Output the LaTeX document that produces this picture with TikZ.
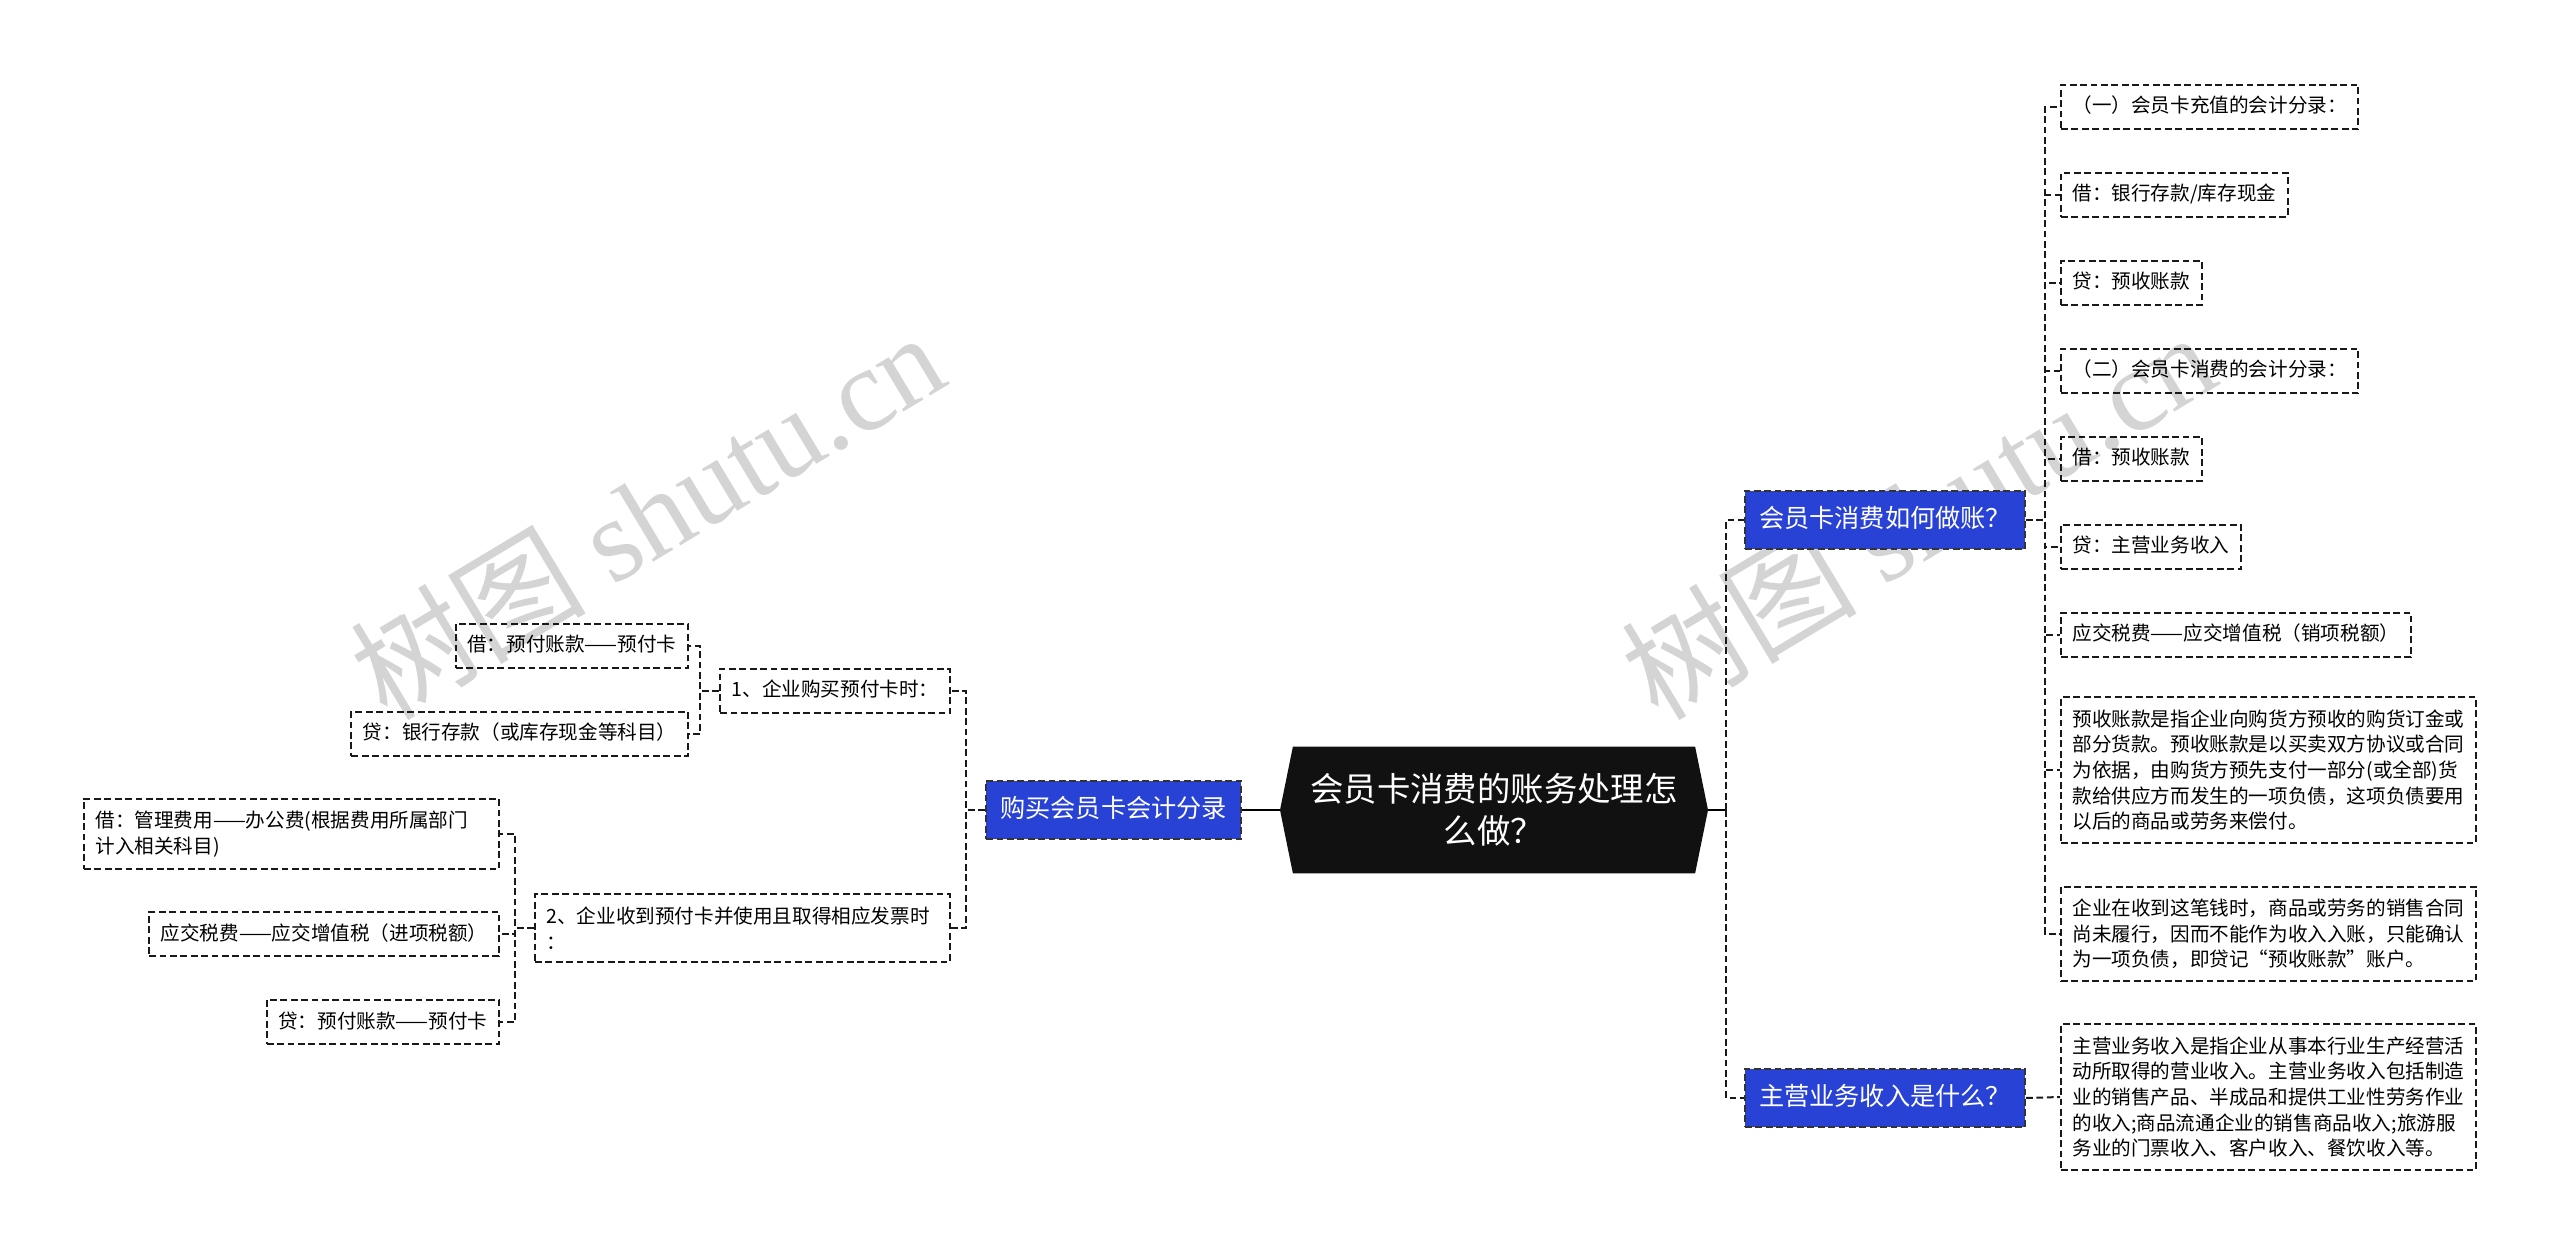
\documentclass[tikz,border=0pt]{standalone}
\usepackage{fontspec}
\setmainfont{Noto Sans CJK SC}
\newfontfamily\marklatin{Liberation Serif}
\usetikzlibrary{shapes.symbols}
\definecolor{branchblue}{RGB}{40,66,214}
\definecolor{rootblack}{RGB}{17,17,17}
\definecolor{markgray}{RGB}{212,212,212}

\begin{document}
\begin{tikzpicture}[x=0.5pt,y=-0.5pt,
  dashline/.style={dash pattern=on 3.4pt off 1.8pt,line width=1pt},
  leaf/.style={draw=black!90,dashline,inner xsep=5.75pt,inner ysep=6.2pt,align=left,font=\fontsize{9.8}{12.85}\selectfont},
  oneline/.style={leaf,text height=8pt,text depth=2pt},
  branch/.style={fill=branchblue,draw=black!80,dashline,text=white,inner xsep=7pt,inner ysep=8.3pt,text height=10.3pt,text depth=2.5pt,font=\fontsize{12.6}{15}\selectfont},
  root/.style={signal,signal to=east and west,signal pointer angle=157,fill=rootblack,text=white,align=center,inner xsep=8.7pt,inner ysep=13.4pt,font=\fontsize{16.7}{21.2}\selectfont},
  watermark/.style={text=markgray,rotate=31,font=\fontsize{59}{59}\selectfont},
  link/.style={draw=black!90,dashline},
  stem/.style={draw=black,line width=1.2pt},
  elbow/.style={to path={-- ([xshift=9.5pt]\tikztostart) |- (\tikztotarget)}},
  elbowl/.style={to path={-- ([xshift=-9.5pt]\tikztostart) |- (\tikztotarget)}},
  rise/.style={to path={|- (\tikztotarget)}}]
  \useasboundingbox (0,0) rectangle (2560,1256);

  \node[watermark] (wm1) at (647,514) {树图 {\marklatin shutu.cn}};
  \node[watermark] (wm2) at (1918,514) {树图 {\marklatin shutu.cn}};

  \node[root] (root) at (1494,810) {会员卡消费的账务处理怎\\么做？};
  \node[branch,anchor=east] (buy) at (1242,810) {购买会员卡会计分录};
  \node[branch,anchor=west] (how) at (1744,520) {会员卡消费如何做账？};
  \node[branch,anchor=west] (what) at (1744,1098) {主营业务收入是什么？};

  \node[oneline,anchor=west] (r1) at (2060,107) {（一）会员卡充值的会计分录：};
  \node[oneline,anchor=west] (r2) at (2060,195) {借：银行存款/库存现金};
  \node[oneline,anchor=west] (r3) at (2060,283) {贷：预收账款};
  \node[oneline,anchor=west] (r4) at (2060,371) {（二）会员卡消费的会计分录：};
  \node[oneline,anchor=west] (r5) at (2060,459) {借：预收账款};
  \node[oneline,anchor=west] (r6) at (2060,547) {贷：主营业务收入};
  \node[oneline,anchor=west] (r7) at (2060,635) {应交税费——应交增值税（销项税额）};
  \node[leaf,anchor=west] (r8) at (2060,770) {预收账款是指企业向购货方预收的购货订金或\\部分货款。预收账款是以买卖双方协议或合同\\为依据，由购货方预先支付一部分(或全部)货\\款给供应方而发生的一项负债，这项负债要用\\以后的商品或劳务来偿付。};
  \node[leaf,anchor=west] (r9) at (2060,934) {企业在收到这笔钱时，商品或劳务的销售合同\\尚未履行，因而不能作为收入入账，只能确认\\为一项负债，即贷记“预收账款”账户。};
  \node[leaf,anchor=west] (w1) at (2060,1097) {主营业务收入是指企业从事本行业生产经营活\\动所取得的营业收入。主营业务收入包括制造\\业的销售产品、半成品和提供工业性劳务作业\\的收入;商品流通企业的销售商品收入;旅游服\\务业的门票收入、客户收入、餐饮收入等。};

  \node[oneline,anchor=east] (b1) at (951,691) {1、企业购买预付卡时：};
  \node[leaf,anchor=east,text width=196pt] (b2) at (951,928) {2、企业收到预付卡并使用且取得相应发票时\\：};
  \node[oneline,anchor=east] (b11) at (689,646) {借：预付账款——预付卡};
  \node[oneline,anchor=east] (b12) at (689,734) {贷：银行存款（或库存现金等科目）};
  \node[leaf,anchor=east,text width=196pt] (b21) at (500,834) {借：管理费用——办公费(根据费用所属部门\\计入相关科目)};
  \node[oneline,anchor=east] (b22) at (500,934) {应交税费——应交增值税（进项税额）};
  \node[oneline,anchor=east] (b23) at (500,1022) {贷：预付账款——预付卡};

  \coordinate (rj) at ([xshift=9pt]root.east);
  \draw[stem] (root.east) -- (rj);
  \draw[stem] (root.west) -- (buy.east);

  \path[link]
    (rj) edge[rise] (how.west)
    (rj) edge[rise] (what.west)
    (how.east) edge[elbow] (r1.west)
    (how.east) edge[elbow] (r2.west)
    (how.east) edge[elbow] (r3.west)
    (how.east) edge[elbow] (r4.west)
    (how.east) edge[elbow] (r5.west)
    (how.east) edge[elbow] (r6.west)
    (how.east) edge[elbow] (r7.west)
    (how.east) edge[elbow] (r8.west)
    (how.east) edge[elbow] (r9.west)
    (what.east) edge (w1.west)
    (buy.west) edge[elbowl] (b1.east)
    (buy.west) edge[elbowl] (b2.east)
    (b1.west) edge[elbowl] (b11.east)
    (b1.west) edge[elbowl] (b12.east)
    (b2.west) edge[elbowl] (b21.east)
    (b2.west) edge[elbowl] (b22.east)
    (b2.west) edge[elbowl] (b23.east)
    ;
\end{tikzpicture}
\end{document}
